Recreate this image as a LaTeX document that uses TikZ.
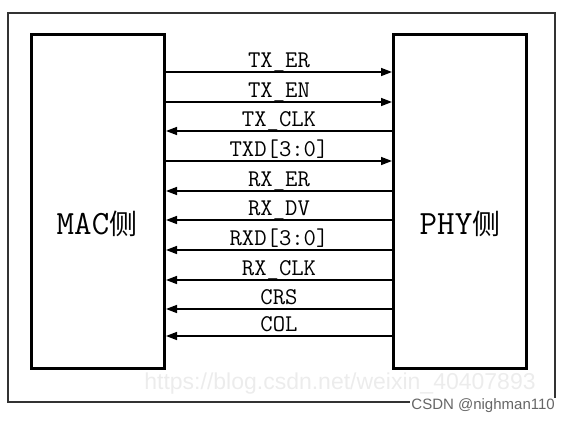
\documentclass[tikz,border=0pt]{standalone}
\usepackage{fontspec}
\usepackage{tikz}
\usetikzlibrary{arrows.meta}
\newfontfamily\cjkfont{Noto Sans CJK SC}
\newfontfamily\wmfont{Liberation Sans}
\definecolor{framegray}{HTML}{333333}
\definecolor{wmgray}{HTML}{ECECEC}
\definecolor{taggray}{HTML}{666666}

\begin{document}
\begin{tikzpicture}[
  x=1pt,
  y=-1pt,
  sidebox/.style={
    rectangle,
    draw=black,
    line width=3pt,
    minimum width=133pt,
    minimum height=334pt,
    inner sep=0pt
  },
  sidetext/.style={
    inner sep=0pt,
    font=\fontsize{34}{40}\ttfamily
  },
  sig/.style={
    draw=black,
    line width=1.5pt
  },
  txsig/.style={
    sig,
    -{Triangle[length=11pt,width=8pt]}
  },
  rxsig/.style={
    sig,
    -{Triangle[length=11pt,width=8pt]}
  },
  siglabel/.style={
    inner sep=0pt,
    anchor=base,
    yshift=5pt,
    font=\fontsize{24}{28}\ttfamily
  },
  outerframe/.style={
    draw=framegray,
    line width=1.5pt
  },
  watermark/.style={
    inner sep=0pt,
    text=wmgray,
    font=\wmfont\fontsize{23}{27}\selectfont
  },
  csdntag/.style={
    inner sep=1pt,
    fill=white,
    text=taggray,
    font=\wmfont\fontsize{15}{18}\selectfont
  }
]

\useasboundingbox (0,0) rectangle (571,423);

% faint url watermark behind everything
\node[watermark] (wmurl) at (340,384) {https://blog.csdn.net/weixin\_40407893};

\draw[outerframe] (8,13) rectangle (555,402);

% the two sides
\node[sidebox] (mac) at (98,201.5) {};
\node[sidebox] (phy) at (460,201.5) {};

\node[sidetext] (maclabel) at (97,224) {MAC{\cjkfont\fontsize{28}{32}\selectfont 侧}};
\node[sidetext] (phylabel) at (460,224) {PHY{\cjkfont\fontsize{28}{32}\selectfont 侧}};

% transmit side, MAC to PHY
\draw[txsig] (mac.east |- 0,72)  -- (phy.west |- 0,72)  node[siglabel,midway] {TX\_ER};
\draw[txsig] (mac.east |- 0,102) -- (phy.west |- 0,102) node[siglabel,midway] {TX\_EN};
\draw[rxsig] (phy.west |- 0,131) -- (mac.east |- 0,131) node[siglabel,midway] {TX\_CLK};
\draw[txsig] (mac.east |- 0,161) -- (phy.west |- 0,161) node[siglabel,midway] {TXD[3:0]};

% receive side, PHY to MAC
\draw[rxsig] (phy.west |- 0,191) -- (mac.east |- 0,191) node[siglabel,midway] {RX\_ER};
\draw[rxsig] (phy.west |- 0,220) -- (mac.east |- 0,220) node[siglabel,midway] {RX\_DV};
\draw[rxsig] (phy.west |- 0,250) -- (mac.east |- 0,250) node[siglabel,midway] {RXD[3:0]};
\draw[rxsig] (phy.west |- 0,280) -- (mac.east |- 0,280) node[siglabel,midway] {RX\_CLK};
\draw[rxsig] (phy.west |- 0,309) -- (mac.east |- 0,309) node[siglabel,midway] {CRS};
\draw[rxsig] (phy.west |- 0,336) -- (mac.east |- 0,336) node[siglabel,midway] {COL};

\node[csdntag, anchor=east] (csdn) at (556,406) {CSDN @nighman110};

\end{tikzpicture}
\end{document}
